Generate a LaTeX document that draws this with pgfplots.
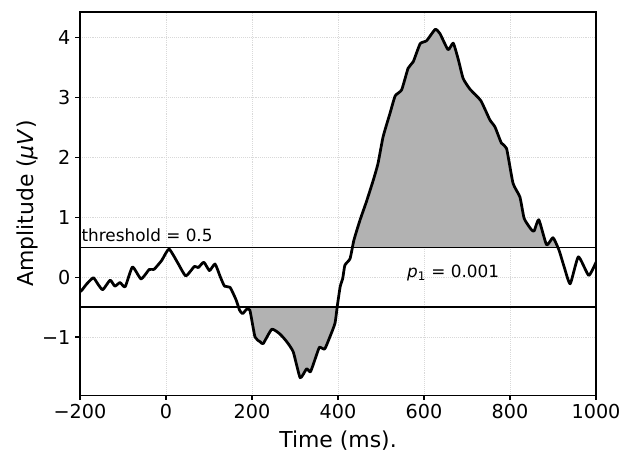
\documentclass[border=0pt]{standalone}
\usepackage{fontspec}
\setmainfont{DejaVu Sans}
\usepackage{pgfplots}
\pgfplotsset{compat=1.18}
\begin{document}
\begin{tikzpicture}
\begin{axis}[
  scale only axis, width=376.6pt, height=279.6pt,
  xmin=-200, xmax=1000, ymin=-1.97, ymax=4.43,
  xtick={-200,0,200,400,600,800,1000},
  xticklabels={−200,0,200,400,600,800,1000},
  ytick={-1,0,1,2,3,4},
  yticklabels={−1,0,1,2,3,4},
  tick label style={font=\fontsize{14}{16}\selectfont},
  xlabel={Time (ms).},
  ylabel={Amplitude (\textit{μV})},
  xlabel style={font=\fontsize{16}{19}\selectfont, at={(axis description cs:0.5,-0.1359)}, anchor=base},
  ylabel style={font=\fontsize{16}{19}\selectfont, at={(axis description cs:-0.0911,0.5)}, anchor=base},
  grid=major,
  grid style={densely dotted, black!15, line width=0.5pt},
  tick align=outside, tick pos=left,
  major tick length=3.5pt,
  every tick/.style={black, line width=0.8pt},
  axis line style={line width=0.8pt},
  clip=true,
]
% negative cluster fill
\addplot[draw=none, fill=black!30] coordinates {
(192,-0.5) (195,-0.55) (207,-1.0) (219,-1.08) (226,-1.11) (246,-0.87) (265,-0.95) (281,-1.08) (296,-1.25) (312,-1.68) (327,-1.53) (336,-1.58) (350,-1.30) (357,-1.17) (369,-1.20) (381,-1.0) (393,-0.77) (398,-0.5)
} -- cycle;
% positive cluster fill
\addplot[draw=none, fill=black!30] coordinates {
(433.5,0.5) (437,0.62) (451,0.95) (466,1.26) (482,1.62) (493,1.90) (505,2.35) (521,2.74) (533,3.03) (548,3.13) (563,3.49) (575,3.60) (591,3.90) (606,3.95) (626,4.14) (637,4.07) (656,3.80) (668,3.91) (680,3.63) (691,3.32) (707,3.14) (732,2.95) (753,2.63) (765,2.51) (780,2.24) (792,2.15) (807,1.57) (823,1.34) (833,0.98) (849,0.80) (856,0.77) (867,0.96) (885,0.54) (900,0.66) (910,0.5)
} -- cycle;
% thresholds
\addplot[black, line width=1pt] coordinates {(-200,0.5) (1000,0.5)};
\addplot[black, line width=1pt] coordinates {(-200,-0.5) (1000,-0.5)};
% waveform
\addplot[black, line width=2pt, line join=round, smooth, tension=0.3] coordinates {
(-200,-0.24) (-196,-0.22) (-184,-0.11) (-169,-0.01) (-158,-0.12) (-147,-0.21) (-130,-0.05) (-119,-0.15) (-107,-0.09) (-95,-0.16) (-78,0.17) (-58,-0.03) (-39,0.13) (-28,0.13) (-10,0.28) (7,0.47) (28,0.23) (46,0.02) (66,0.18) (75,0.16) (88,0.25) (101,0.11) (114,0.22) (126,0.01) (136,-0.15) (149,-0.17) (163,-0.38) (171,-0.55) (178,-0.61) (187,-0.54) (195,-0.55) (207,-1.0) (219,-1.08) (226,-1.11) (246,-0.87) (265,-0.95) (281,-1.08) (296,-1.25) (312,-1.68) (327,-1.53) (336,-1.58) (350,-1.30) (357,-1.17) (369,-1.20) (381,-1.0) (393,-0.77) (398,-0.50) (405,-0.16) (411,-0.02) (416,0.2) (428,0.31) (437,0.62) (451,0.95) (466,1.26) (482,1.62) (493,1.90) (505,2.35) (521,2.74) (533,3.03) (548,3.13) (563,3.49) (575,3.60) (591,3.90) (606,3.95) (626,4.14) (637,4.07) (656,3.80) (668,3.91) (680,3.63) (691,3.32) (707,3.14) (732,2.95) (753,2.63) (765,2.51) (780,2.24) (792,2.15) (807,1.57) (823,1.34) (833,0.98) (849,0.80) (856,0.77) (867,0.96) (885,0.54) (900,0.66) (914,0.45) (926,0.17) (940,-0.11) (959,0.34) (983,0.03) (1000,0.25)
};
\node[anchor=base west, font=\fontsize{12.3}{14}\selectfont, inner sep=0pt] at (axis cs:-197,0.59) {threshold = 0.5};
\node[anchor=base west, font=\fontsize{12.3}{14}\selectfont, inner sep=0pt] at (axis cs:560,0) {\textit{p}\textsubscript{1} = 0.001};
\end{axis}
\pgfresetboundingbox
\path ([shift={(-58.4pt,-40.9pt)}]current axis.south west) rectangle ([shift={(19.7pt,8.76pt)}]current axis.north east);
\end{tikzpicture}
\end{document}
